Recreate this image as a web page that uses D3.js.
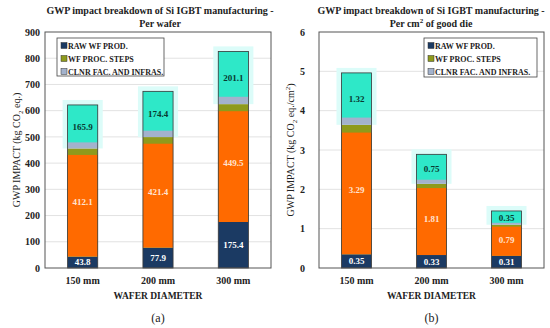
<!DOCTYPE html>
<html>
<head>
<meta charset="utf-8">
<script src="https://cdn.jsdelivr.net/npm/d3@7"></script>
<style>
  body { margin: 0; background: #fff; }
</style>
</head>
<body>
<svg id="chart" width="550" height="328"></svg>
<script>
var categories = ['150 mm', '200 mm', '300 mm'];
var seriesNames = ['RAW WF PROD.', 'WF PROC. STEPS', 'CLNR FAC. AND INFRAS.'];

var rawWafer = [43.8, 77.9, 175.4];
var procWafer = [412.1, 421.4, 449.5];
var clnrWafer = [165.9, 174.4, 201.1];
var ticksWafer = [0, 100, 200, 300, 400, 500, 600, 700, 800, 900];

var rawDie = [0.35, 0.33, 0.31];
var procDie = [3.29, 1.81, 0.79];
var clnrDie = [1.32, 0.75, 0.35];
var ticksDie = [0, 1, 2, 3, 4, 5, 6];

var SERIF = '"Liberation Serif", "DejaVu Serif", serif';
var svg = d3.select('#chart');

function drawPanel(p) {
  var x = d3.scaleBand().domain(categories).range([p.left, p.right]).paddingInner(0.6).paddingOuter(0.3);
  var y = d3.scaleLinear().domain([0, d3.max(p.ticks)]).range([268, 32]);
  var g = svg.append('g');

  // grid
  g.selectAll('.grid').data(p.ticks.slice(1, -1)).enter().append('line')
    .attr('x1', p.left).attr('x2', p.right)
    .attr('y1', function(d) { return y(d); }).attr('y2', function(d) { return y(d); })
    .attr('stroke', '#e2e2e2').attr('stroke-width', 1);

  // y axis
  var ya = g.append('g').attr('transform', 'translate(' + p.left + ',0)')
    .call(d3.axisLeft(y).tickValues(p.ticks).tickSize(0).tickPadding(p.tickPad).tickFormat(d3.format('d')));
  ya.select('.domain').remove();
  ya.selectAll('text').style('font-family', SERIF).style('font-weight', 'bold').style('font-size', '10px').attr('fill', '#222');

  // x axis labels
  var xa = g.append('g').attr('transform', 'translate(0,268)')
    .call(d3.axisBottom(x).tickSize(0).tickPadding(9));
  xa.select('.domain').remove();
  xa.selectAll('text').style('font-family', SERIF).style('font-weight', 'bold').style('font-size', '10px').attr('fill', '#222');

  var stacks = categories.map(function(c, i) {
    var a = p.raw[i], b = p.proc[i], t = p.clnr[i];
    return { cat: c, raw: a, proc: b, clnr: t, y0: 0, y1: a, y2: a + b, y3: a + b + t };
  });

  var bw = x.bandwidth();

  // halo around top segment
  g.selectAll('.halo').data(stacks).enter().append('rect')
    .attr('x', function(d) { return x(d.cat) - 5; })
    .attr('width', bw + 10)
    .attr('y', function(d) { return y(d.y3) - 5; })
    .attr('height', function(d) { return y(d.y2) - y(d.y3) + 5; })
    .attr('fill', '#dcfcf9');

  // raw segment
  g.selectAll('.raw').data(stacks).enter().append('rect')
    .attr('x', function(d) { return x(d.cat); }).attr('width', bw)
    .attr('y', function(d) { return y(d.y1); })
    .attr('height', function(d) { return y(d.y0) - y(d.y1); })
    .attr('fill', '#1b3a63');

  // process segment (olive) with orange body
  g.selectAll('.proc').data(stacks).enter().append('rect')
    .attr('x', function(d) { return x(d.cat); }).attr('width', bw)
    .attr('y', function(d) { return y(d.y2); })
    .attr('height', function(d) { return y(d.y1) - y(d.y2); })
    .attr('fill', '#8e9a1c');
  g.selectAll('.procIn').data(stacks).enter().append('rect')
    .attr('x', function(d) { return x(d.cat); }).attr('width', bw)
    .attr('y', function(d) { return y(d.y2 - d.proc * 0.06); })
    .attr('height', function(d) { return y(d.y1) - y(d.y2 - d.proc * 0.06); })
    .attr('fill', '#ff6a00');

  // cleanroom segment (grey-blue) with turquoise body
  g.selectAll('.clnr').data(stacks).enter().append('rect')
    .attr('x', function(d) { return x(d.cat); }).attr('width', bw)
    .attr('y', function(d) { return y(d.y3); })
    .attr('height', function(d) { return y(d.y2) - y(d.y3); })
    .attr('fill', '#a3b2cc');
  g.selectAll('.clnrIn').data(stacks).enter().append('rect')
    .attr('x', function(d) { return x(d.cat); }).attr('width', bw)
    .attr('y', function(d) { return y(d.y3); })
    .attr('height', function(d) { return y(d.y2 + d.clnr * 0.14) - y(d.y3); })
    .attr('fill', '#2ee8c8');

  // bar outlines
  g.selectAll('.outline').data(stacks).enter().append('rect')
    .attr('x', function(d) { return x(d.cat); }).attr('width', bw)
    .attr('y', function(d) { return y(d.y3); })
    .attr('height', function(d) { return y(0) - y(d.y3); })
    .attr('fill', 'none').attr('stroke', '#3a3a3a').attr('stroke-width', 0.8);

  // value labels
  var labels = [
    { key: 'raw', lo: 'y0', hi: 'y1', color: '#ffffff' },
    { key: 'proc', lo: 'y1', hi: 'y2', color: '#ffe2d0' },
    { key: 'clnr', lo: 'y2', hi: 'y3', color: '#083a30' }
  ];
  labels.forEach(function(l) {
    g.selectAll('.lab-' + l.key).data(stacks).enter().append('text')
      .attr('x', function(d) { return x(d.cat) + bw / 2; })
      .attr('y', function(d) { return (y(d[l.lo]) + y(d[l.hi])) / 2 + 3; })
      .attr('text-anchor', 'middle').attr('font-size', 9).attr('fill', l.color)
      .attr('font-family', SERIF).attr('font-weight', 'bold')
      .text(function(d) { return p.fmt(d[l.key]); });
  });

  // plot frame
  g.append('rect').attr('x', p.left).attr('y', 32)
    .attr('width', p.right - p.left).attr('height', 236)
    .attr('fill', 'none').attr('stroke', '#555').attr('stroke-width', 1);

  // legend
  var lg = g.append('g').attr('transform', 'translate(' + p.legX + ',38)');
  lg.append('rect').attr('width', p.legW).attr('height', p.legH)
    .attr('fill', '#fff').attr('stroke', '#444').attr('stroke-width', 0.8);
  var legColors = ['#1b3a63', '#8e9a1c', '#a3b2cc'];
  seriesNames.forEach(function(n, i) {
    lg.append('rect').attr('x', 4).attr('y', 4.5 + i * 13).attr('width', 6).attr('height', 6)
      .attr('fill', legColors[i]).attr('stroke', '#333').attr('stroke-width', 0.5);
    lg.append('text').attr('x', 11).attr('y', 10.5 + i * 13).attr('font-size', 8)
      .attr('font-family', SERIF).attr('font-weight', 'bold').attr('fill', '#222').text(n);
  });

  function label(xp, yp, size, weight, html) {
    return g.append('text').attr('x', xp).attr('y', yp).attr('text-anchor', 'middle')
      .attr('font-size', size).attr('font-family', SERIF).attr('font-weight', weight)
      .attr('fill', '#222').html(html);
  }

  // titles
  var cx = (p.left + p.right) / 2;
  label(p.titleX, 14, 10, 'bold', p.title1);
  label(p.titleX, 27, 10, 'bold', p.title2);

  // y title
  label(0, 0, 10, 'normal', p.yTitle).attr('transform', 'translate(' + p.yTitleX + ',150) rotate(-90)');

  label(cx, 299, 9.5, 'bold', 'WAFER DIAMETER');
  label(cx, 322, 12, 'normal', p.tag);
}

drawPanel({
  left: 45, right: 271, ticks: ticksWafer, tickPad: 5,
  raw: rawWafer, proc: procWafer, clnr: clnrWafer,
  fmt: d3.format('.1f'),
  legX: 57, legW: 107, legH: 38,
  titleX: 160,
  title1: 'GWP impact breakdown of Si IGBT manufacturing -',
  title2: 'Per wafer',
  yTitleX: 20,
  yTitle: 'GWP IMPACT (kg CO<tspan font-size="7" dy="3">2</tspan><tspan dy="-3"> eq.)</tspan>',
  tag: '(a)'
});

drawPanel({
  left: 319, right: 544, ticks: ticksDie, tickPad: 14,
  raw: rawDie, proc: procDie, clnr: clnrDie,
  fmt: d3.format('.2f'),
  legX: 424, legW: 113, legH: 39,
  titleX: 431,
  title1: 'GWP impact breakdown of Si IGBT manufacturing -',
  title2: 'Per cm<tspan font-size="7" dy="-4">2</tspan><tspan dy="4"> of good die</tspan>',
  yTitleX: 294,
  yTitle: 'GWP IMPACT (kg CO<tspan font-size="7" dy="3">2</tspan><tspan dy="-3"> eq./cm</tspan><tspan font-size="7" dy="-4">2</tspan><tspan dy="4">)</tspan>',
  tag: '(b)'
});
</script>
</body>
</html>
